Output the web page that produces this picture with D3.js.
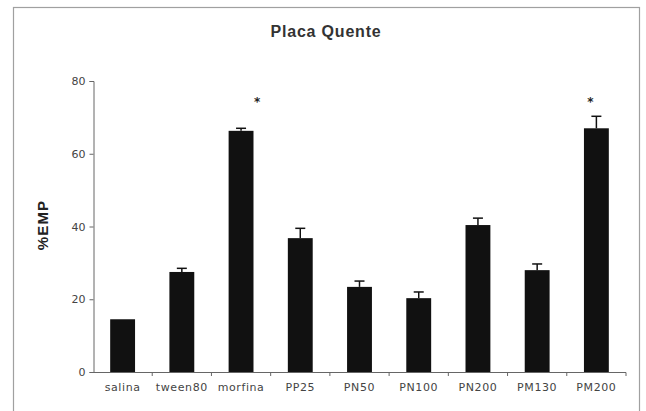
<!DOCTYPE html>
<html>
<head>
<meta charset="utf-8">
<script src="https://cdn.jsdelivr.net/npm/d3@7"></script>
<style>
  html, body { margin: 0; padding: 0; background: #fff; }
  svg { display: block; }
</style>
</head>
<body>
<svg id="chart" width="646" height="411"></svg>
<script>
// ---- data ----
const categories = ["salina", "tween80", "morfina", "PP25", "PN50", "PN100", "PN200", "PM130", "PM200"];
const means      = [14.5, 27.5, 66.3, 36.8, 23.4, 20.3, 40.4, 28.0, 67.0];
const errors     = [0, 1.0, 0.7, 2.7, 1.6, 1.7, 1.9, 1.7, 3.3];
const significant = ["morfina", "PM200"];
const yTicks     = [0, 20, 40, 60, 80];
const title      = "Placa Quente";
const yLabel     = "%EMP";

// ---- drawing ----
const svg = d3.select("#chart");

// frame
svg.append("rect")
  .attr("x", 13.5).attr("y", 7.5)
  .attr("width", 626).attr("height", 430)
  .attr("fill", "none").attr("stroke", "#a0a0a0").attr("stroke-width", 1.2);

const x = d3.scaleBand()
  .domain(categories)
  .range([93, 626])
  .paddingInner(0.58)
  .paddingOuter(0.29);

const y = d3.scaleLinear().domain([0, 80]).range([372, 81]);

const g = svg.append("g");

// y axis
const yAxis = d3.axisLeft(y).tickValues(yTicks).tickSize(4).tickPadding(4);
const yg = g.append("g").attr("transform", "translate(93.5,0)").call(yAxis);
yg.select(".domain").attr("stroke", "#666");
yg.selectAll(".tick line").attr("stroke", "#666");
yg.selectAll(".tick text")
  .attr("fill", "#444")
  .style("font-family", "'DejaVu Sans', sans-serif")
  .style("font-size", "11px");

// x axis (ticks at band boundaries)
const step = x.step();
const boundaries = categories.map(c => x(c) - step * x.paddingInner() / 2).concat([626]);
g.append("line")
  .attr("x1", 93).attr("x2", 626)
  .attr("y1", 372.5).attr("y2", 372.5)
  .attr("stroke", "#666");
g.selectAll(".xtick").data(boundaries.slice(1)).enter().append("line")
  .attr("class", "xtick")
  .attr("x1", d => d).attr("x2", d => d)
  .attr("y1", 372.5).attr("y2", 376)
  .attr("stroke", "#666");
g.selectAll(".xlab").data(categories).enter().append("text")
  .attr("class", "xlab")
  .attr("x", d => x(d) + x.bandwidth() / 2)
  .attr("y", 391)
  .attr("text-anchor", "middle")
  .attr("fill", "#444")
  .style("font-family", "'DejaVu Sans', sans-serif")
  .style("font-size", "11px")
  .style("letter-spacing", "0.6px")
  .text(d => d);

// bars
g.selectAll(".bar").data(categories).enter().append("rect")
  .attr("class", "bar")
  .attr("x", d => x(d))
  .attr("width", x.bandwidth())
  .attr("y", (d, i) => y(means[i]))
  .attr("height", (d, i) => y(0) - y(means[i]))
  .attr("fill", "#111");

// error bars
const capW = 10;
categories.forEach((c, i) => {
  if (!errors[i]) return;
  const cx = x(c) + x.bandwidth() / 2;
  g.append("line")
    .attr("x1", cx).attr("x2", cx)
    .attr("y1", y(means[i])).attr("y2", y(means[i] + errors[i]))
    .attr("stroke", "#111").attr("stroke-width", 1.5);
  g.append("line")
    .attr("x1", cx - capW / 2).attr("x2", cx + capW / 2)
    .attr("y1", y(means[i] + errors[i])).attr("y2", y(means[i] + errors[i]))
    .attr("stroke", "#111").attr("stroke-width", 1.5);
});

// significance asterisks
const starShift = { morfina: 16, PM200: -6 };
significant.forEach(c => {
  g.append("text")
    .attr("x", x(c) + x.bandwidth() / 2 + (starShift[c] || 0))
    .attr("y", y(75) + 7)
    .attr("text-anchor", "middle")
    .attr("fill", "#222")
    .style("font-family", "'DejaVu Sans', sans-serif")
    .style("font-weight", "bold")
    .style("font-size", "12px")
    .text("*");
});

// title
svg.append("text")
  .attr("x", 326).attr("y", 37)
  .attr("text-anchor", "middle")
  .attr("fill", "#333")
  .style("font-family", "'Liberation Sans', Arial, sans-serif")
  .style("font-weight", "bold")
  .style("font-size", "16px")
  .style("letter-spacing", "0.8px")
  .text(title);

// y label
svg.append("text")
  .attr("transform", "translate(48,225) rotate(-90)")
  .attr("text-anchor", "middle")
  .attr("fill", "#222")
  .style("font-family", "'Liberation Sans', Arial, sans-serif")
  .style("font-weight", "bold")
  .style("font-size", "15px")
  .style("letter-spacing", "1.2px")
  .text(yLabel);
</script>
</body>
</html>
